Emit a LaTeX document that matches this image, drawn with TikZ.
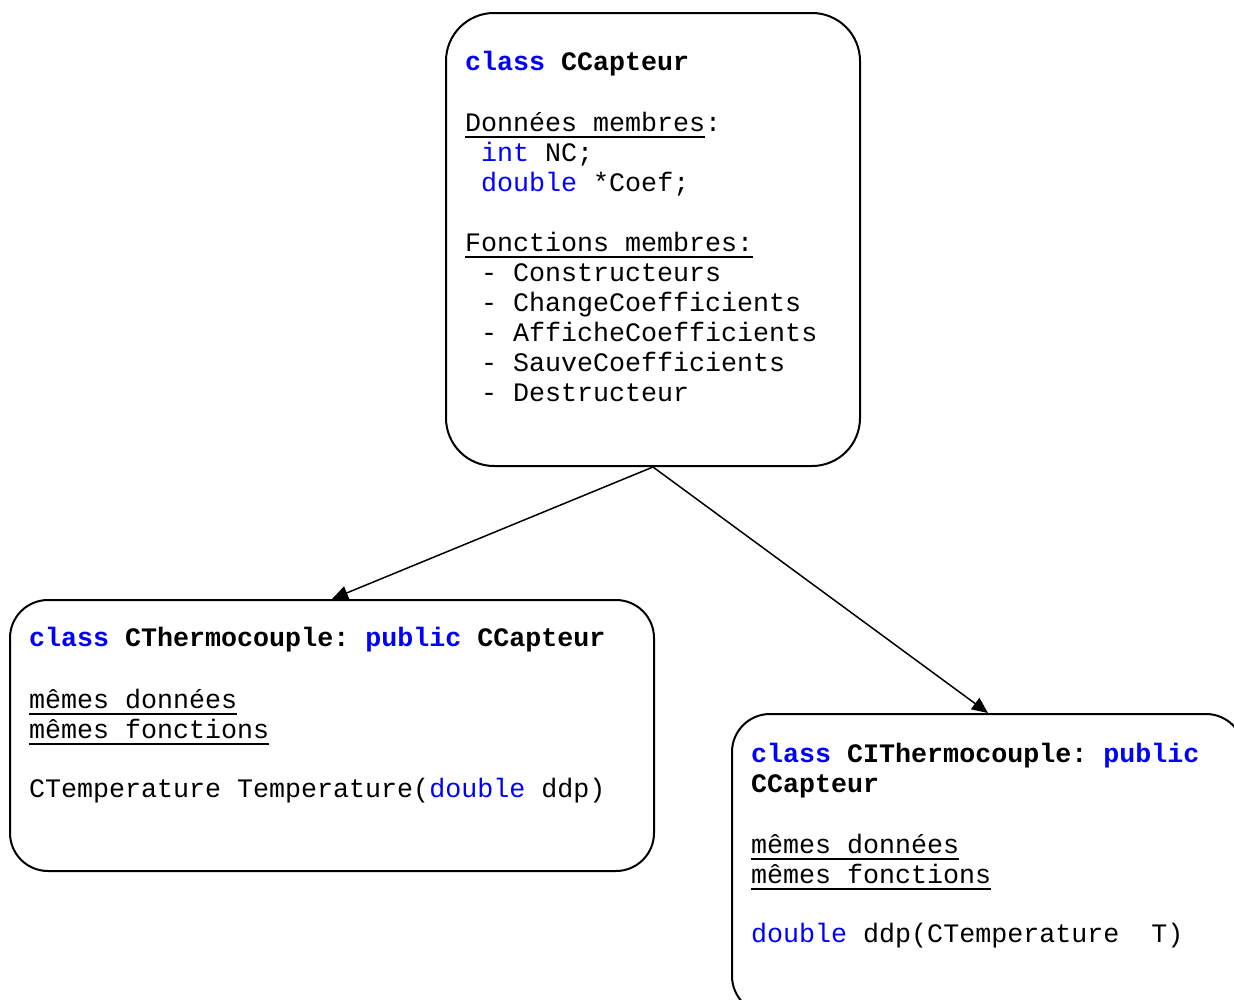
\documentclass[tikz,border=0pt]{standalone}
\usepackage{fontspec}
\setmonofont{Liberation Mono}
\usetikzlibrary{arrows.meta}
\definecolor{kwblue}{RGB}{0,0,255}
% keywords in blue
\newcommand\kwd[1]{\textcolor{kwblue}{#1}}
% underline drawn as a rule under the text
\newcommand\ulx[1]{\setbox0\hbox{#1}\rlap{\rule[-6.5pt]{\wd0}{2pt}}\box0}
\begin{document}
\begin{tikzpicture}[x=1pt,y=-1pt,
  classbox/.style={draw, line width=2pt, inner sep=0pt, anchor=north west},
  code/.style={anchor=base west, inner sep=0pt,
    font=\fontsize{26.67}{30}\selectfont\ttfamily},
  inherit/.style={line width=1.5pt, -{Triangle[length=16pt,width=14pt]}}]
\useasboundingbox (0,0) rectangle (1234,999);

% base class
\node[classbox, rounded corners=48pt, minimum width=414pt, minimum height=453pt]
  (capteur) at (445,12) {};
\node[code] (c1)  at (465,70)  {\kwd{\bfseries class} \textbf{CCapteur}};
\node[code] (c2)  at (465,131) {\ulx{Données membres}:};
\node[code] (c3)  at (465,161) {\ \kwd{int} NC;};
\node[code] (c4)  at (465,191) {\ \kwd{double} *Coef;};
\node[code] (c5)  at (465,251) {\ulx{Fonctions membres:}};
\node[code] (c6)  at (465,281) {\ - Constructeurs};
\node[code] (c7)  at (465,311) {\ - ChangeCoefficients};
\node[code] (c8)  at (465,341) {\ - AfficheCoefficients};
\node[code] (c9)  at (465,371) {\ - SauveCoefficients};
\node[code] (c10) at (465,401) {\ - Destructeur};

% thermocouple class
\node[classbox, rounded corners=38pt, minimum width=644pt, minimum height=271pt]
  (thermo) at (9,599) {};
\node[code] (t1) at (29,646) {\kwd{\bfseries class} \textbf{CThermocouple:} \kwd{\bfseries public} \textbf{CCapteur}};
\node[code] (t2) at (29,708) {\ulx{mêmes données}};
\node[code] (t3) at (29,738) {\ulx{mêmes fonctions}};
\node[code] (t4) at (29,797) {CTemperature Temperature(\kwd{double} ddp)};

% inverse thermocouple class
\node[classbox, rounded corners=38pt, minimum width=512pt, minimum height=300pt]
  (ithermo) at (731,713) {};
\node[code] (i1) at (751,762) {\kwd{\bfseries class} \textbf{CIThermocouple:} \kwd{\bfseries public}};
\node[code] (i2) at (751,792) {\textbf{CCapteur}};
\node[code] (i3) at (751,853) {\ulx{mêmes données}};
\node[code] (i4) at (751,883) {\ulx{mêmes fonctions}};
\node[code] (i5) at (751,942) {\kwd{double} ddp(CTemperature\ \ T)};

% inheritance links
\draw[inherit] (capteur.south) -- (thermo.north);
\draw[inherit] (capteur.south) -- (ithermo.north);
\end{tikzpicture}
\end{document}
